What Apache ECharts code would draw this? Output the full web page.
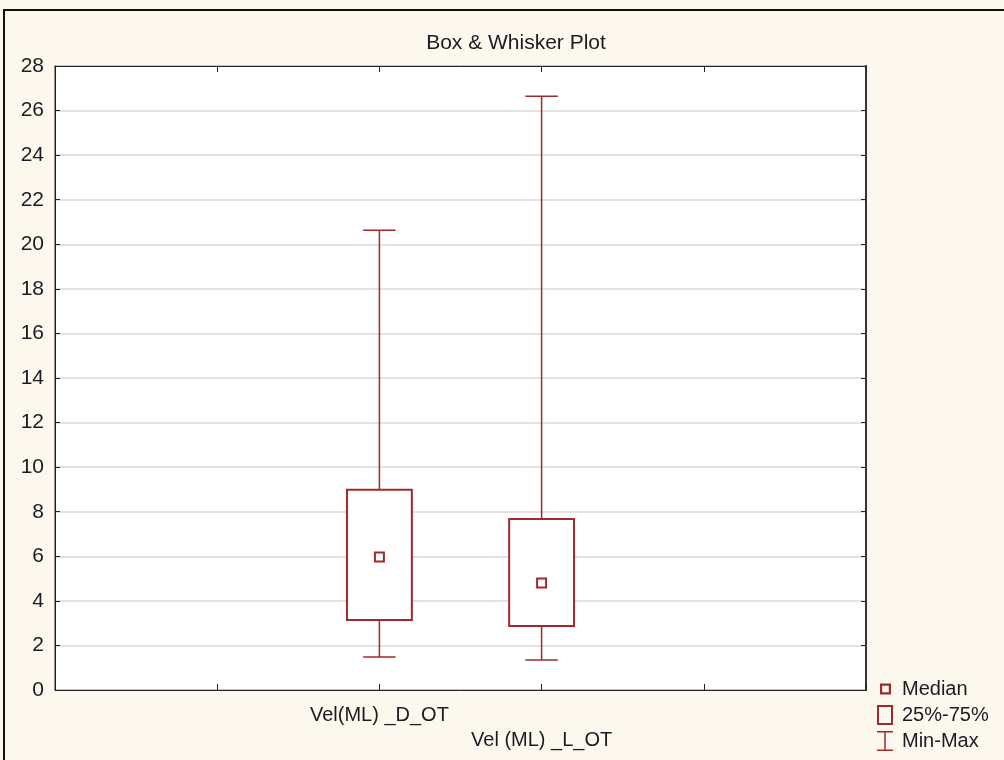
<!DOCTYPE html>
<html>
<head>
<meta charset="utf-8">
<script src="https://cdn.jsdelivr.net/npm/echarts@6/dist/echarts.min.js"></script>
<style>
  html, body { margin: 0; padding: 0; background: #fdf8ee; }
  #chart { width: 1004px; height: 760px; }
</style>
</head>
<body>
<div id="chart"></div>
<script>
// box & whisker data
const categories = ["Vel(ML) _D_OT", "Vel (ML) _L_OT"];
const positions = [2, 3];
const minValues = [1.48, 1.35];
const q1Values = [3.14, 2.87];
const medianValues = [5.97, 4.8];
const q3Values = [8.98, 7.67];
const maxValues = [20.63, 26.64];
const yTicks = [0, 28, 2]; // min, max, interval

const RED = "#9e2a2b";

const boxData = positions.map((p, i) => [
  p, minValues[i], q1Values[i], medianValues[i], q3Values[i], maxValues[i],
]);

// 须线 min-max
function renderWhisker(params, api) {
  const x = api.value(0);
  const pMin = api.coord([x, api.value(1)]);
  const pMax = api.coord([x, api.value(5)]);
  const capW = api.size([0.2, 0])[0];
  const style = { stroke: RED, lineWidth: 1.5, fill: null };
  return {
    type: "group",
    children: [
      { type: "line", shape: { x1: pMin[0], y1: pMin[1], x2: pMax[0], y2: pMax[1] }, style },
      { type: "line", shape: { x1: pMin[0] - capW / 2, y1: pMin[1], x2: pMin[0] + capW / 2, y2: pMin[1] }, style },
      { type: "line", shape: { x1: pMax[0] - capW / 2, y1: pMax[1], x2: pMax[0] + capW / 2, y2: pMax[1] }, style },
    ],
  };
}

// 箱体 25%-75%
function renderBox(params, api) {
  const x = api.value(0);
  const pQ1 = api.coord([x, api.value(2)]);
  const pQ3 = api.coord([x, api.value(4)]);
  const w = api.size([0.4, 0])[0];
  return {
    type: "rect",
    shape: { x: pQ1[0] - w / 2, y: pQ3[1], width: w, height: pQ1[1] - pQ3[1] },
    style: { stroke: RED, lineWidth: 2, fill: "#fff" },
  };
}

// 中位数
function renderMedian(params, api) {
  const x = api.value(0);
  const p = api.coord([x, api.value(3)]);
  const s = 9;
  return {
    type: "rect",
    shape: { x: p[0] - s / 2, y: p[1] - s / 2, width: s, height: s },
    style: { stroke: RED, lineWidth: 2, fill: "#fff" },
  };
}

const textColor = "#1b1b24";
const fontFamily = "Liberation Sans, Arial, sans-serif";
const FS = 20;

const option = {
  backgroundColor: "#fdf8ee",
  animation: false,
  title: {
    text: "Box & Whisker Plot",
    left: 511,
    textAlign: "center",
    top: 28,
    textStyle: { fontSize: 21, fontWeight: "normal", color: textColor, fontFamily },
  },
  graphic: [
    {
      type: "polyline",
      shape: { points: [[4, 770], [4, 10], [1010, 10]] },
      style: { stroke: "#111", lineWidth: 2, fill: null },
      silent: true,
    },
  ],
  grid: {
    left: 55,
    right: 138,
    top: 66,
    bottom: 70,
    show: true,
    backgroundColor: "#fff",
    borderColor: "#222",
    borderWidth: 1,
  },
  legend: [
    {
      data: [{ name: "Median", icon: "path://M0,0H10V10H0Z M2,2V8H8V2Z" }],
      left: 880, top: 679, padding: 0, itemWidth: 11, itemHeight: 11,
      textStyle: { fontSize: FS, color: textColor, fontFamily, padding: [0, 0, 0, 6] },
      selectedMode: false,
    },
    {
      data: [{ name: "25%-75%", icon: "path://M0,0H16V20H0Z M2,2V18H14V2Z" }],
      left: 877, top: 705, padding: 0, itemWidth: 16, itemHeight: 20,
      textStyle: { fontSize: FS, color: textColor, fontFamily, padding: [0, 0, 0, 4] },
      selectedMode: false,
    },
    {
      data: [{ name: "Min-Max", icon: "path://M0,0H16V1.5H8.75V18.5H16V20H0V18.5H7.25V1.5H0Z" }],
      left: 877, top: 731, padding: 0, itemWidth: 16, itemHeight: 20,
      textStyle: { fontSize: FS, color: textColor, fontFamily, padding: [0, 0, 0, 4] },
      selectedMode: false,
    },
  ],
  xAxis: [
    {
      type: "value",
      min: 0,
      max: 5,
      interval: 1,
      axisLine: { show: true, onZero: false, lineStyle: { color: "#222", width: 1 } },
      axisTick: { show: true, inside: true, length: 6, lineStyle: { color: "#222" } },
      splitLine: { show: false },
      axisLabel: {
        color: textColor,
        fontSize: FS,
        fontFamily,
        margin: 15,
        formatter: (v) => {
          const i = positions.indexOf(v);
          if (i < 0) return "";
          return i === 0 ? "{a|" + categories[i] + "}" : "{b|" + categories[i] + "}";
        },
        rich: {
          a: { fontSize: FS, color: textColor, fontFamily },
          b: { fontSize: FS, color: textColor, fontFamily, padding: [25, 0, 0, 0] },
        },
      },
    },
    {
      type: "value",
      position: "top",
      min: 0,
      max: 5,
      interval: 1,
      axisLine: { show: true, onZero: false, lineStyle: { color: "#222" } },
      axisTick: { show: true, inside: true, length: 6, lineStyle: { color: "#222" } },
      axisLabel: { show: false },
      splitLine: { show: false },
    },
  ],
  yAxis: [
    {
      type: "value",
      min: yTicks[0],
      max: yTicks[1],
      interval: yTicks[2],
      axisLine: { show: true, onZero: false, lineStyle: { color: "#222" } },
      axisTick: { show: true, inside: true, length: 5, lineStyle: { color: "#222" } },
      axisLabel: { color: textColor, fontSize: 21, fontFamily, margin: 11 },
      splitLine: { show: true, lineStyle: { color: "#d8d8d8", width: 1.5 } },
    },
    {
      type: "value",
      position: "right",
      min: yTicks[0],
      max: yTicks[1],
      interval: yTicks[2],
      axisLine: { show: true, onZero: false, lineStyle: { color: "#333", width: 2 } },
      axisTick: { show: true, inside: true, length: 5, lineStyle: { color: "#222" } },
      axisLabel: { show: false },
      splitLine: { show: false },
    },
  ],
  series: [
    {
      name: "Min-Max",
      type: "custom",
      renderItem: renderWhisker,
      itemStyle: { color: RED },
      encode: { x: 0, y: [1, 5] },
      data: boxData,
      z: 2,
    },
    {
      name: "25%-75%",
      type: "custom",
      renderItem: renderBox,
      itemStyle: { color: RED },
      encode: { x: 0, y: [2, 4] },
      data: boxData,
      z: 3,
    },
    {
      name: "Median",
      type: "custom",
      renderItem: renderMedian,
      itemStyle: { color: RED },
      encode: { x: 0, y: 3 },
      data: boxData,
      z: 4,
    },
  ],
};

const chart = echarts.init(document.getElementById("chart"), null, { renderer: "canvas" });
chart.setOption(option);
window.addEventListener("resize", () => chart.resize());
</script>
</body>
</html>
